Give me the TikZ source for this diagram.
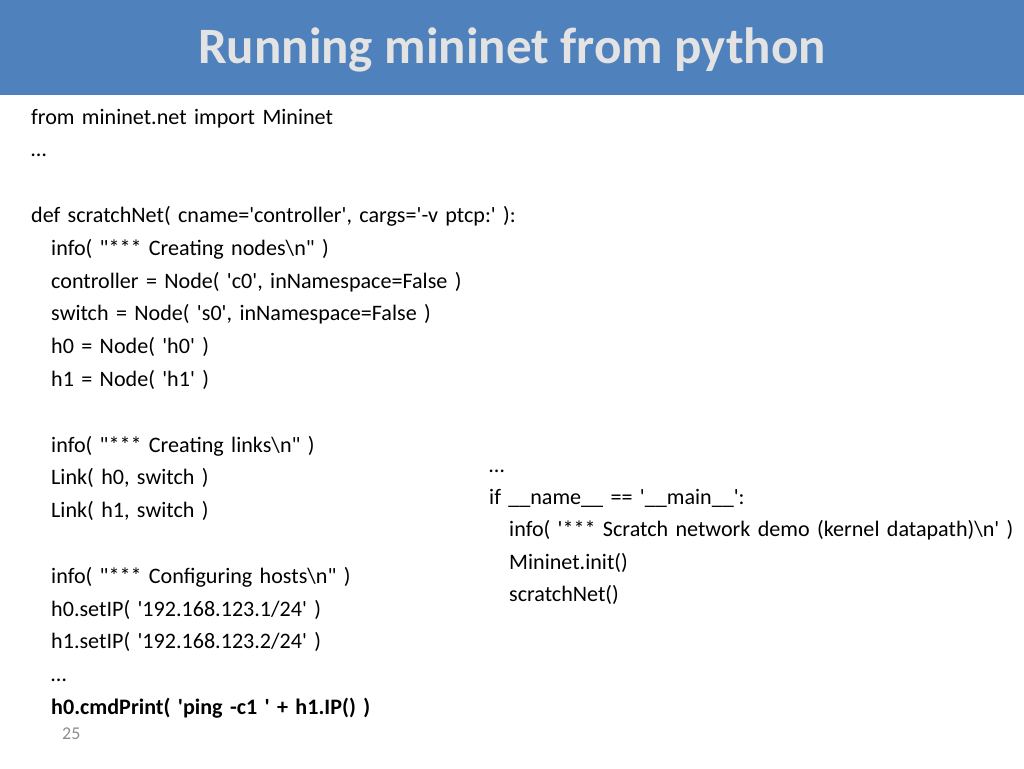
\documentclass[tikz,border=0pt]{standalone}
\usepackage{fontspec}
\newfontfamily\slidefont{Carlito}
\usepackage{tikz}
\usetikzlibrary{positioning}
\definecolor{slideblue}{HTML}{4F81BD}
\definecolor{titlegray}{HTML}{E3E3E3}
\definecolor{pagegray}{HTML}{8C8C8C}
\frenchspacing
\tikzstyle{codeline} = [text width=600pt, align=left, inner sep=0pt,
    text height=17pt, text depth=6pt, font=\slidefont\fontsize{22.1}{27}\selectfont, node distance=32.8pt]
\tikzstyle{codeline2} = [codeline, text width=540pt, node distance=32.4pt]

\begin{document}
\begin{tikzpicture}[x=1pt,y=-1pt]
\useasboundingbox (0,0) rectangle (1024,768);

% title bar
\fill[slideblue] (0,0) rectangle (1024,95);
\node[font=\slidefont\fontsize{51}{58}\selectfont\bfseries,text=titlegray] (title) at (512,50) {Running mininet from python};

% left column
\node [codeline,anchor=west] (imp) at (31,118.5) {from mininet.net import Mininet};
\node [codeline,below of=imp] (dots1) {\ldots};
\node [codeline,below of=dots1,node distance=65.6pt] (def) {def scratchNet( cname='controller', cargs='-v ptcp:' ):};
\node [codeline,below of=def,xshift=20pt] (info1) {info( "*** Creating nodes\textbackslash n" )};
\node [codeline,below of=info1] (ctrl) {controller = Node( 'c0', inNamespace=False )};
\node [codeline,below of=ctrl] (sw) {switch = Node( 's0', inNamespace=False )};
\node [codeline,below of=sw] (hzero) {h0 = Node( 'h0' )};
\node [codeline,below of=hzero] (hone) {h1 = Node( 'h1' )};

\node [codeline,below of=hone,node distance=65.6pt] (info2) {info( "*** Creating links\textbackslash n" )};
\node [codeline,below of=info2] (link1) {Link( h0, switch )};
\node [codeline,below of=link1] (link2) {Link( h1, switch )};

\node [codeline,below of=link2,node distance=65.6pt] (info3) {info( "*** Configuring hosts\textbackslash n" )};
\node [codeline,below of=info3] (ip0) {h0.setIP( '192.168.123.1/24' )};
\node [codeline,below of=ip0] (ip1) {h1.setIP( '192.168.123.2/24' )};
\node [codeline,below of=ip1] (dots2) {\ldots};
\node [codeline,below of=dots2,font=\slidefont\fontsize{22.1}{27}\selectfont\bfseries] (ping) {h0.cmdPrint( 'ping -c1 ' + h1.IP() )};

% right column
\node [codeline2,anchor=west] (dots3) at (489,466.5) {\ldots};
\node [codeline2,below of=dots3] (ifmain) {if \_\_name\_\_ == '\_\_main\_\_':};
\node [codeline2,below of=ifmain,xshift=20pt] (info4) {info( '*** Scratch network demo (kernel datapath)\textbackslash n' )};
\node [codeline2,below of=info4] (init) {Mininet.init()};
\node [codeline2,below of=init] (run) {scratchNet()};

% page number
\node [font=\slidefont\fontsize{18}{21}\selectfont,text=pagegray,anchor=west,inner sep=0pt] (page) at (62,734) {25};

\end{tikzpicture}
\end{document}
